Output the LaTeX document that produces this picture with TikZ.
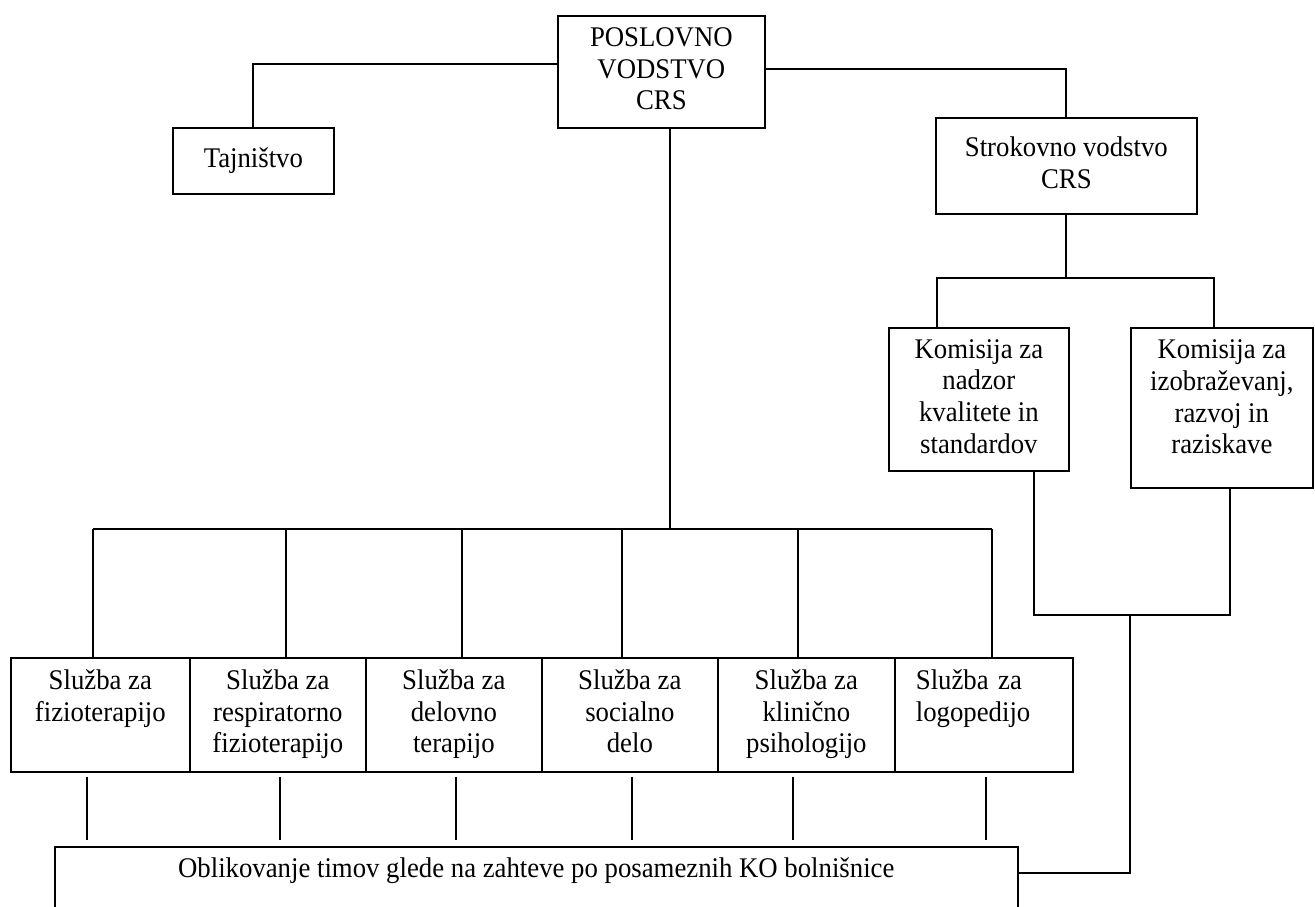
\documentclass[tikz,border=0pt]{standalone}
\usepackage{fontspec}
\setmainfont{Liberation Serif}[FakeStretch=0.94]
\newcommand\boxfont{\fontsize{16.2}{18}\selectfont}
\tikzset{
  box/.style={draw, line width=1pt, inner sep=0pt, align=center, font=\boxfont, anchor=north west},
  link/.style={line width=1pt},
}
\begin{document}
\begin{tikzpicture}[x=0.02cm, y=-0.02cm]
\useasboundingbox (0,0) rectangle (1315,906);
% top level
\node[box, minimum width=4.14cm, minimum height=2.24cm] (pv) at (557,15) {\strut POSLOVNO\\VODSTVO\\CRS\strut};
\node[box, minimum width=3.22cm, minimum height=1.32cm] (taj) at (172,127) {Tajništvo\strut};
\node[box, minimum width=5.22cm, minimum height=1.92cm] (sv) at (935,117) {\strut Strokovno vodstvo\\CRS\strut};
% commissions
\node[box, minimum width=3.6cm, minimum height=2.86cm] (k1) at (888,327) {\strut Komisija za\\nadzor\\kvalitete in\\standardov\strut};
\node[box, minimum width=3.64cm, minimum height=3.2cm] (k2) at (1130,327) {\strut Komisija za\\izobraževanj,\\razvoj in\\raziskave\\[-9pt]\mbox{}\strut};
% services
\node[box, minimum width=3.58cm, minimum height=2.28cm] (s1) at (10,657) {\strut Služba za\\fizioterapijo\\\strut};
\node[box, minimum width=3.52cm, minimum height=2.28cm] (s2) at (189,657) {\strut Služba za\\respiratorno\\fizioterapijo\strut};
\node[box, minimum width=3.52cm, minimum height=2.28cm] (s3) at (365,657) {\strut Služba za\\delovno\\terapijo\strut};
\node[box, minimum width=3.52cm, minimum height=2.28cm] (s4) at (541,657) {\strut Služba za\\socialno\\delo\strut};
\node[box, minimum width=3.54cm, minimum height=2.28cm] (s5) at (717,657) {\strut Služba za\\klinično\\psihologijo\strut};
\node[box, minimum width=3.56cm, minimum height=2.28cm, align=left, text width=2.72cm, inner xsep=0.42cm] (s6) at (894,657) {\strut Služba za\\logopedijo\\\strut};
% bottom box
\node[box, minimum width=19.26cm, minimum height=1.6cm] (ob) at (54,846) {\strut Oblikovanje timov glede na zahteve po posameznih KO bolnišnice\\\strut};
% connectors top
\draw[link] ([yshift=0.16cm]pv.west) -| (taj.north);
\draw[link] ([yshift=0.06cm]pv.east) -| (sv.north);
\coordinate (busy) at (0,529);
\draw[link] ([xshift=0.17cm]pv.south) -- ([xshift=0.17cm]pv.south |- busy);
\draw[link] ([xshift=-0.15cm]s1.north |- busy) -- ([xshift=0.16cm]s6.north |- busy);
\foreach \n/\dx in {s1/-0.15,s2/0.16,s3/0.16,s4/-0.16,s5/-0.17,s6/0.16}
  \draw[link] ([xshift=\dx cm]\n.north) -- ([xshift=\dx cm]\n.north |- busy);
% strokovno to commissions
\coordinate (ky) at (0,278);
\draw[link] (sv.south) -- (sv.south |- ky);
\draw[link] ([xshift=-0.84cm]k1.north) -- ([xshift=-0.84cm]k1.north |- ky) -- ([xshift=-0.16cm]k2.north |- ky) -- ([xshift=-0.16cm]k2.north);
% commissions to bottom box
\coordinate (jy) at (0,615);
\coordinate (jx) at (1130,615);
\draw[link] ([xshift=1.1cm]k1.south) -- ([xshift=1.1cm]k1.south |- jy) -- ([xshift=0.16cm]k2.south |- jy) -- ([xshift=0.16cm]k2.south);
\draw[link] (jx) |- ([yshift=0.28cm]ob.east);
% services to bottom box
\foreach \n/\dx in {s1/-0.27,s2/0.04,s3/0.04,s4/0.04,s5/-0.27,s6/0.04}
  \draw[link, shorten <=0.08cm, shorten >=0.12cm] ([xshift=\dx cm]\n.south) -- ([xshift=\dx cm]\n.south |- ob.north);
\end{tikzpicture}
\end{document}
